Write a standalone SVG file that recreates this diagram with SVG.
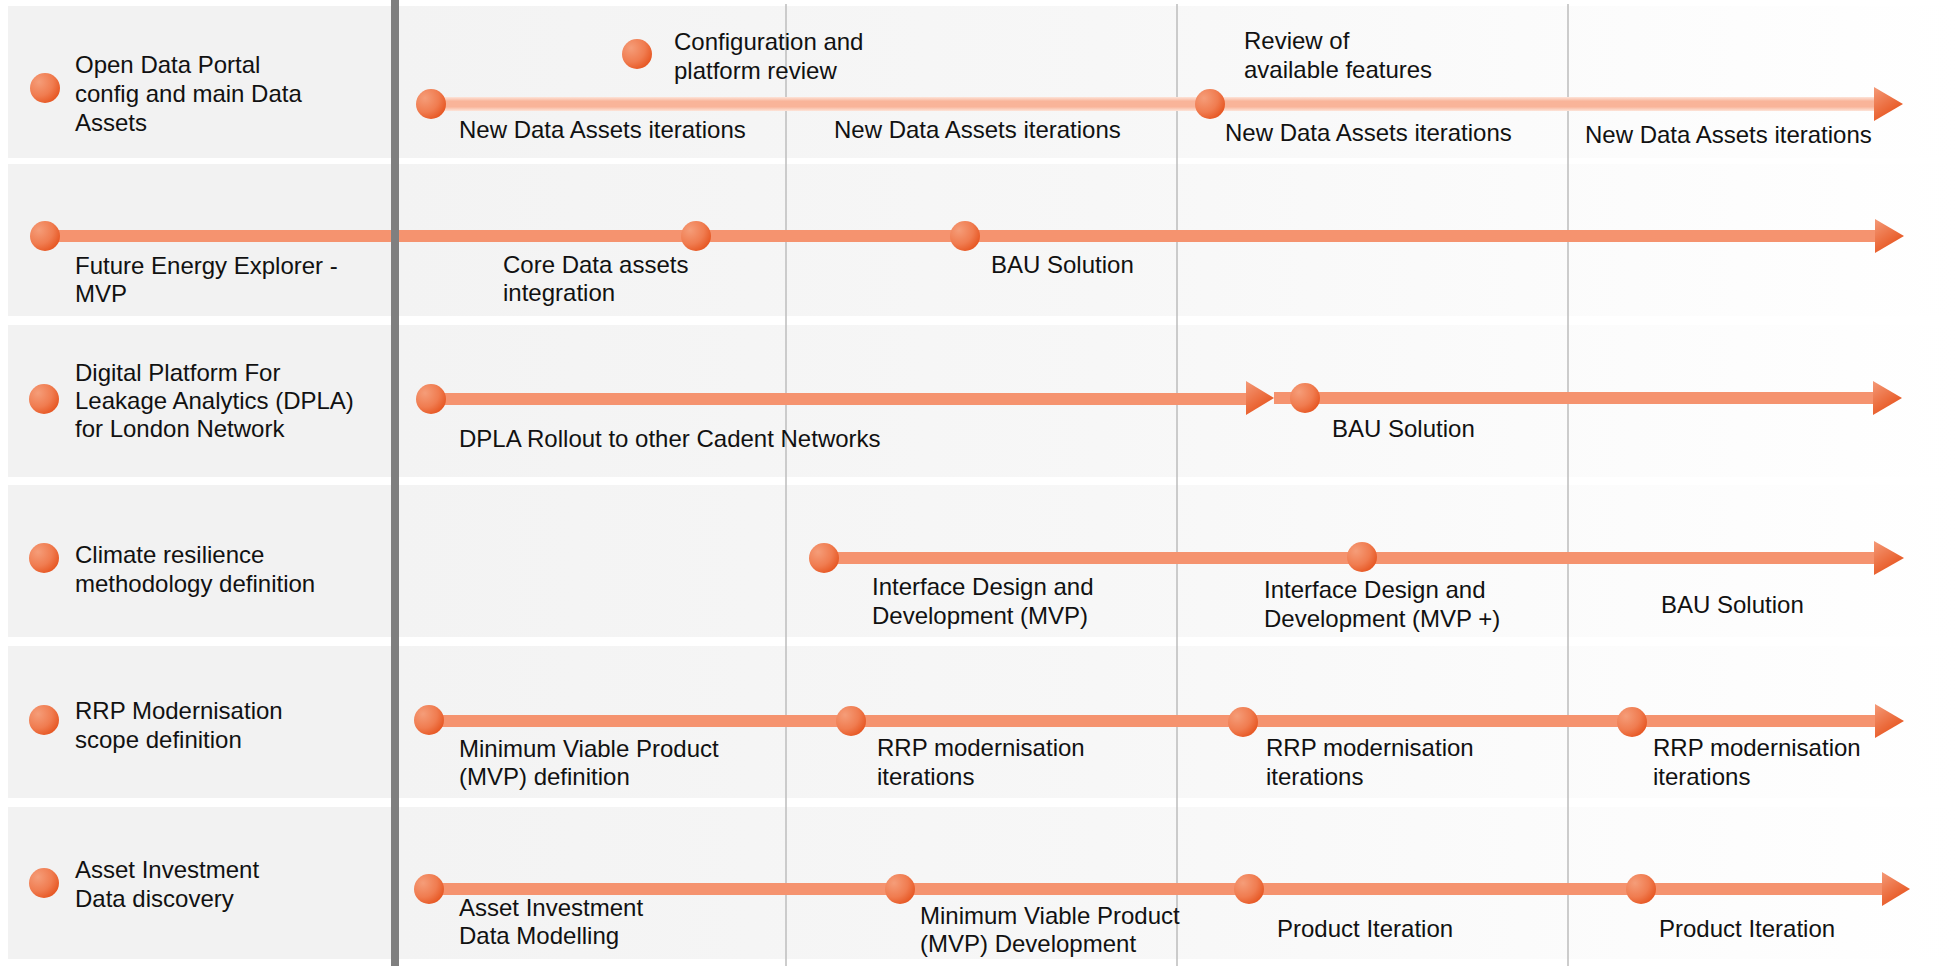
<svg xmlns="http://www.w3.org/2000/svg" width="1959" height="966" viewBox="0 0 1959 966">
  <defs>
    <style>
      text { font-family: "Liberation Sans", Arial, sans-serif; font-size: 24px; fill: #111111; }
      .panel { fill: #f2f2f2; }
      .lane { fill: url(#laneFade); }
      .dot { fill: url(#dotGrad); }
      .bar { fill: #f5936f; }
      .bar-pale { fill: url(#paleBar); }
      .head { fill: url(#headGrad); }
      .grid { stroke: #bdbdbd; stroke-width: 1.5; }
      .divider { stroke: #7f7f7f; stroke-width: 8; }
    </style>
    <linearGradient id="laneFade" x1="399" y1="0" x2="1959" y2="0" gradientUnits="userSpaceOnUse">
      <stop offset="0" stop-color="#f3f3f3"/>
      <stop offset="0.45" stop-color="#f7f7f7"/>
      <stop offset="0.72" stop-color="#fbfbfb"/>
      <stop offset="1" stop-color="#ffffff"/>
    </linearGradient>
    <radialGradient id="dotGrad" cx="0.3" cy="0.3" r="0.85" fx="0.3" fy="0.3">
      <stop offset="0" stop-color="#f59d79"/>
      <stop offset="0.55" stop-color="#f07c50"/>
      <stop offset="1" stop-color="#e44d17"/>
    </radialGradient>
    <linearGradient id="headGrad" x1="0" y1="0" x2="0.6" y2="1">
      <stop offset="0" stop-color="#f49a78"/>
      <stop offset="1" stop-color="#e64f18"/>
    </linearGradient>
    <linearGradient id="paleBar" x1="0" y1="0" x2="0" y2="1">
      <stop offset="0" stop-color="#fde4d9"/>
      <stop offset="0.3" stop-color="#f9b499"/>
      <stop offset="0.7" stop-color="#f9b499"/>
      <stop offset="1" stop-color="#fde4d9"/>
    </linearGradient>
  </defs>

  <rect width="1959" height="966" fill="#ffffff"/>

  <!-- lane backgrounds -->
  <g id="lanes">
    <rect class="panel" x="8" y="6" width="383" height="152"/>
    <rect class="lane" x="399" y="6" width="1560" height="152"/>
    <rect class="panel" x="8" y="164" width="383" height="152"/>
    <rect class="lane" x="399" y="164" width="1560" height="152"/>
    <rect class="panel" x="8" y="325" width="383" height="152"/>
    <rect class="lane" x="399" y="325" width="1560" height="152"/>
    <rect class="panel" x="8" y="485" width="383" height="152"/>
    <rect class="lane" x="399" y="485" width="1560" height="152"/>
    <rect class="panel" x="8" y="646" width="383" height="152"/>
    <rect class="lane" x="399" y="646" width="1560" height="152"/>
    <rect class="panel" x="8" y="807" width="383" height="152"/>
    <rect class="lane" x="399" y="807" width="1560" height="152"/>
  </g>

  <!-- period grid -->
  <g id="grid">
    <line class="grid" x1="786" y1="4" x2="786" y2="966"/>
    <line class="grid" x1="1177" y1="4" x2="1177" y2="966"/>
    <line class="grid" x1="1568" y1="4" x2="1568" y2="966"/>
  </g>

  <!-- timelines -->
  <g id="connectors">
    <rect class="bar-pale" x="431" y="97" width="1444" height="14"/>
    <polygon class="head" points="1874,87 1903,104 1874,121"/>

    <rect class="bar" x="45" y="230" width="1831" height="12"/>
    <polygon class="head" points="1875,219 1904,236 1875,253"/>

    <rect class="bar" x="431" y="393" width="816" height="12"/>
    <polygon class="head" points="1246,381 1274,398 1246,415"/>
    <rect class="bar" x="1274" y="392" width="600" height="12"/>
    <polygon class="head" points="1873,381 1902,398 1873,415"/>

    <rect class="bar" x="824" y="552" width="1051" height="12"/>
    <polygon class="head" points="1874,541 1904,558 1874,575"/>

    <rect class="bar" x="429" y="715" width="1447" height="12"/>
    <polygon class="head" points="1875,704 1904,721 1875,738"/>

    <rect class="bar" x="429" y="883" width="1454" height="12"/>
    <polygon class="head" points="1882,872 1910,889 1882,906"/>
  </g>

  <!-- main divider between titles and timeline -->
  <line class="divider" x1="395" y1="0" x2="395" y2="966"/>

  <g id="row-open-data-portal">
    <circle class="dot" cx="45" cy="88" r="15"/>
    <text x="75" y="73">Open Data Portal</text>
    <text x="75" y="102">config and main Data</text>
    <text x="75" y="131">Assets</text>
    <circle class="dot" cx="637" cy="54" r="15"/>
    <text x="674" y="50">Configuration and</text>
    <text x="674" y="79">platform review</text>
    <circle class="dot" cx="431" cy="104" r="15"/>
    <circle class="dot" cx="1210" cy="104" r="15"/>
    <text x="1244" y="49">Review of</text>
    <text x="1244" y="78">available features</text>
    <text x="459" y="138">New Data Assets iterations</text>
    <text x="834" y="138">New Data Assets iterations</text>
    <text x="1225" y="141">New Data Assets iterations</text>
    <text x="1585" y="143">New Data Assets iterations</text>
  </g>

  <g id="row-future-energy-explorer">
    <circle class="dot" cx="45" cy="236" r="15"/>
    <text x="75" y="274">Future Energy Explorer -</text>
    <text x="75" y="302">MVP</text>
    <circle class="dot" cx="696" cy="236" r="15"/>
    <text x="503" y="273">Core Data assets</text>
    <text x="503" y="301">integration</text>
    <circle class="dot" cx="965" cy="236" r="15"/>
    <text x="991" y="273">BAU Solution</text>
  </g>

  <g id="row-dpla">
    <circle class="dot" cx="44" cy="399" r="15"/>
    <text x="75" y="381">Digital Platform For</text>
    <text x="75" y="409">Leakage Analytics (DPLA)</text>
    <text x="75" y="437">for London Network</text>
    <circle class="dot" cx="431" cy="399" r="15"/>
    <text x="459" y="447">DPLA Rollout to other Cadent Networks</text>
    <circle class="dot" cx="1305" cy="398" r="15"/>
    <text x="1332" y="437">BAU Solution</text>
  </g>

  <g id="row-climate-resilience">
    <circle class="dot" cx="44" cy="558" r="15"/>
    <text x="75" y="563">Climate resilience</text>
    <text x="75" y="592">methodology definition</text>
    <circle class="dot" cx="824" cy="558" r="15"/>
    <text x="872" y="595">Interface Design and</text>
    <text x="872" y="624">Development (MVP)</text>
    <circle class="dot" cx="1362" cy="557" r="15"/>
    <text x="1264" y="598">Interface Design and</text>
    <text x="1264" y="627">Development (MVP +)</text>
    <text x="1661" y="613">BAU Solution</text>
  </g>

  <g id="row-rrp-modernisation">
    <circle class="dot" cx="44" cy="720" r="15"/>
    <text x="75" y="719">RRP Modernisation</text>
    <text x="75" y="748">scope definition</text>
    <circle class="dot" cx="429" cy="720" r="15"/>
    <text x="459" y="757">Minimum Viable Product</text>
    <text x="459" y="785">(MVP) definition</text>
    <circle class="dot" cx="851" cy="721" r="15"/>
    <text x="877" y="756">RRP modernisation</text>
    <text x="877" y="785">iterations</text>
    <circle class="dot" cx="1243" cy="722" r="15"/>
    <text x="1266" y="756">RRP modernisation</text>
    <text x="1266" y="785">iterations</text>
    <circle class="dot" cx="1632" cy="722" r="15"/>
    <text x="1653" y="756">RRP modernisation</text>
    <text x="1653" y="785">iterations</text>
  </g>

  <g id="row-asset-investment">
    <circle class="dot" cx="44" cy="883" r="15"/>
    <text x="75" y="878">Asset Investment</text>
    <text x="75" y="907">Data discovery</text>
    <circle class="dot" cx="429" cy="889" r="15"/>
    <text x="459" y="916">Asset Investment</text>
    <text x="459" y="944">Data Modelling</text>
    <circle class="dot" cx="900" cy="889" r="15"/>
    <text x="920" y="924">Minimum Viable Product</text>
    <text x="920" y="952">(MVP) Development</text>
    <circle class="dot" cx="1249" cy="889" r="15"/>
    <text x="1277" y="937">Product Iteration</text>
    <circle class="dot" cx="1641" cy="889" r="15"/>
    <text x="1659" y="937">Product Iteration</text>
  </g>
</svg>
